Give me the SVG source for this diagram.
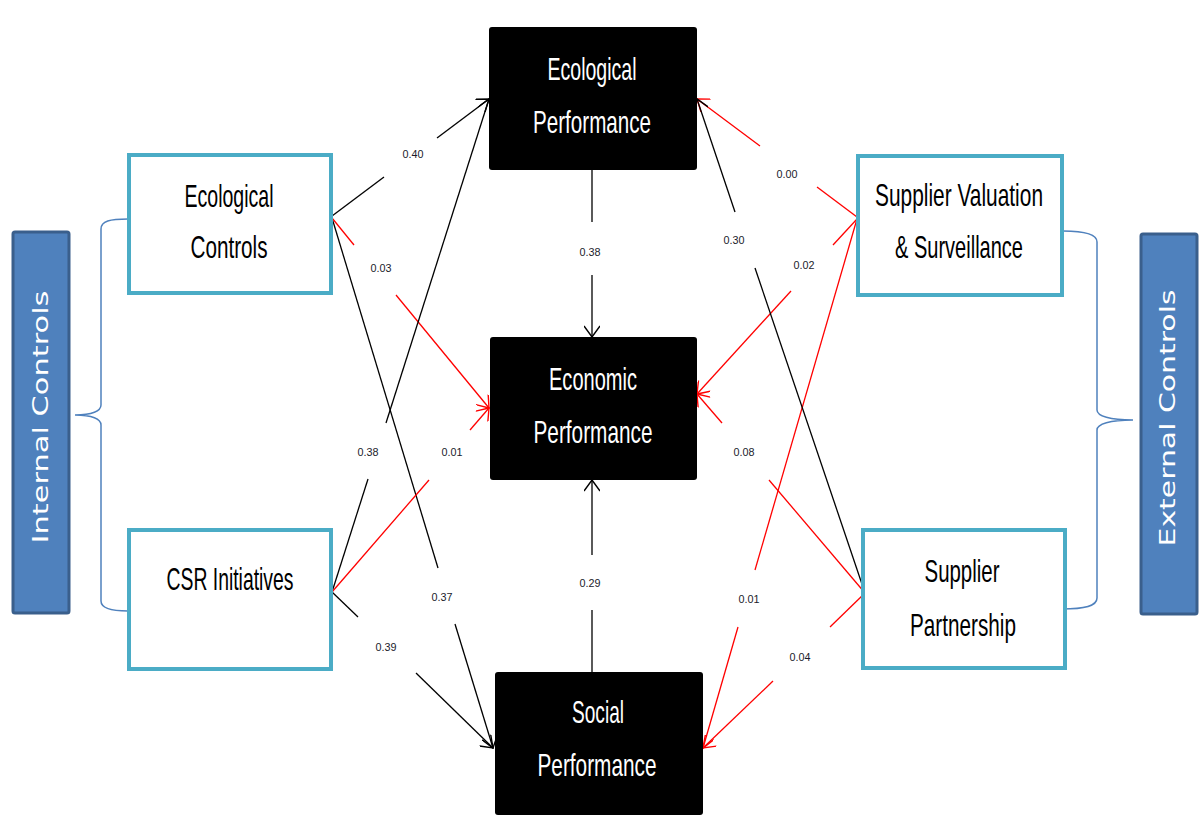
<svg xmlns="http://www.w3.org/2000/svg" width="1200" height="819" viewBox="0 0 1200 819">
<style>
.bg{fill:#fff}
.ctl{fill:#fff;stroke:#4BACC6;stroke-width:4}
.perf{fill:#000}
.bar{fill:#4F81BD;stroke:#3A5F8C;stroke-width:3}
.brace{fill:none;stroke:#4F81BD;stroke-width:1.5}
.t{font-family:"Liberation Sans",Arial,sans-serif;font-size:32px;text-anchor:middle;fill:#000}
.w{fill:#fff}
.bt{font-family:"DejaVu Sans",Verdana,sans-serif;font-size:21px;fill:#fff;text-anchor:middle}
.lb{font-family:"Liberation Sans",Arial,sans-serif;font-size:11px;fill:#1a1a2a;text-anchor:middle}
.k{stroke:#000;stroke-width:1.3;fill:none}
.r{stroke:#FF0000;stroke-width:1.3;fill:none}
.ka{marker-end:url(#ak)}
.ra{marker-end:url(#ar)}
</style>
<defs>
<marker id="ak" viewBox="0 0 16 16" markerWidth="16" markerHeight="16" refX="15" refY="8" orient="auto" markerUnits="userSpaceOnUse">
<path d="M4,0 L15,8 L4,16" fill="none" stroke="#000" stroke-width="1.4"/>
</marker>
<marker id="ar" viewBox="0 0 16 16" markerWidth="16" markerHeight="16" refX="15" refY="8" orient="auto" markerUnits="userSpaceOnUse">
<path d="M4,0 L15,8 L4,16" fill="none" stroke="#FF0000" stroke-width="1.4"/>
</marker>
</defs>
<rect class="bg" x="0" y="0" width="1200" height="819"/>

<g id="internal-controls">
<rect class="bar" x="13" y="232" width="56" height="381" rx="2"/>
<text class="bt" transform="translate(48,417) rotate(-90)" textLength="253" lengthAdjust="spacingAndGlyphs">Internal  Controls</text>
<path class="brace" d="M128,219 C110,219 101,221 101,229 L101,405 C101,411 92,415 75,415 C92,415 101,419 101,425 L101,601 C101,608 110,611 128,611"/>
</g>

<g id="external-controls">
<rect class="bar" x="1141" y="234" width="56" height="380" rx="2"/>
<text class="bt" transform="translate(1175,418) rotate(-90)" textLength="257" lengthAdjust="spacingAndGlyphs">External  Controls</text>
<path class="brace" d="M1063,231 C1085,231 1097,234 1097,242 L1097,410 C1097,416 1110,420 1133,420 C1110,420 1097,424 1097,430 L1097,598 C1097,606 1085,609 1062,609"/>
</g>

<g id="connectors">
<!-- Ecological Controls -> Ecological Performance 0.40 -->
<path class="k" d="M332,216 L384,177"/>
<path class="k ka" d="M437,138 L489,99"/>
<!-- Ecological Controls -> Social Performance 0.37 -->
<path class="k" d="M332,218 L438,568"/>
<path class="k ka" d="M455,624 L493,748"/>
<!-- Ecological Controls -> Economic Performance 0.03 -->
<path class="r" d="M332,218 L354,245"/>
<path class="r ra" d="M396,295 L489,408"/>
<!-- CSR -> Ecological Performance 0.38 -->
<path class="k" d="M332,592 L368,479"/>
<path class="k ka" d="M386,423 L489,99"/>
<!-- CSR -> Economic Performance 0.01 -->
<path class="r" d="M332,592 L429,480"/>
<path class="r ra" d="M470,430 L489,408"/>
<!-- CSR -> Social Performance 0.39 -->
<path class="k" d="M332,592 L358,617"/>
<path class="k ka" d="M416,673 L493,748"/>
<!-- Ecological Perf -> Economic Perf 0.38 -->
<path class="k" d="M592,170 L592,222"/>
<path class="k ka" d="M592,275 L592,337"/>
<!-- Social Perf -> Economic Perf 0.29 -->
<path class="k" d="M592,672 L592,610"/>
<path class="k ka" d="M592,555 L592,480"/>
<!-- Supplier Valuation -> Ecological Perf 0.00 -->
<path class="r" d="M857,217 L817,187"/>
<path class="r ra" d="M760,146 L697,99"/>
<!-- Supplier Valuation -> Economic Perf 0.02 -->
<path class="r" d="M857,219 L833,245"/>
<path class="r ra" d="M791,291 L697,394"/>
<!-- Supplier Valuation -> Social Perf 0.01 -->
<path class="r" d="M857,219 L755,570"/>
<path class="r ra" d="M738,627 L703,748"/>
<!-- Supplier Partnership -> Ecological Perf 0.30 -->
<path class="k" d="M865,593 L755,268"/>
<path class="k ka" d="M735,212 L697,99"/>
<!-- Supplier Partnership -> Economic Perf 0.08 -->
<path class="r" d="M865,593 L769,480"/>
<path class="r ra" d="M722,423 L697,394"/>
<!-- Supplier Partnership -> Social Perf 0.04 -->
<path class="r" d="M865,593 L830,627"/>
<path class="r ra" d="M773,681 L703,748"/>

<text class="lb" x="413" y="158" textLength="21" lengthAdjust="spacingAndGlyphs">0.40</text>
<text class="lb" x="381" y="272" textLength="21" lengthAdjust="spacingAndGlyphs">0.03</text>
<text class="lb" x="368" y="456" textLength="21" lengthAdjust="spacingAndGlyphs">0.38</text>
<text class="lb" x="452" y="456" textLength="21" lengthAdjust="spacingAndGlyphs">0.01</text>
<text class="lb" x="442" y="601" textLength="21" lengthAdjust="spacingAndGlyphs">0.37</text>
<text class="lb" x="386" y="651" textLength="21" lengthAdjust="spacingAndGlyphs">0.39</text>
<text class="lb" x="590" y="256" textLength="21" lengthAdjust="spacingAndGlyphs">0.38</text>
<text class="lb" x="590" y="587" textLength="21" lengthAdjust="spacingAndGlyphs">0.29</text>
<text class="lb" x="787" y="178" textLength="21" lengthAdjust="spacingAndGlyphs">0.00</text>
<text class="lb" x="734" y="244" textLength="21" lengthAdjust="spacingAndGlyphs">0.30</text>
<text class="lb" x="804" y="269" textLength="21" lengthAdjust="spacingAndGlyphs">0.02</text>
<text class="lb" x="744" y="456" textLength="21" lengthAdjust="spacingAndGlyphs">0.08</text>
<text class="lb" x="749" y="603" textLength="21" lengthAdjust="spacingAndGlyphs">0.01</text>
<text class="lb" x="800" y="661" textLength="21" lengthAdjust="spacingAndGlyphs">0.04</text>
</g>

<g id="ecological-controls">
<rect class="ctl" x="129" y="155" width="202" height="138"/>
<text class="t" x="229" y="207" textLength="89" lengthAdjust="spacingAndGlyphs">Ecological</text>
<text class="t" x="229" y="258" textLength="77" lengthAdjust="spacingAndGlyphs">Controls</text>
</g>

<g id="csr-initiatives">
<rect class="ctl" x="129" y="530" width="202" height="139"/>
<text class="t" x="230" y="590" textLength="127" lengthAdjust="spacingAndGlyphs">CSR Initiatives</text>
</g>

<g id="supplier-valuation">
<rect class="ctl" x="858" y="156" width="204" height="139"/>
<text class="t" x="959" y="206" textLength="168" lengthAdjust="spacingAndGlyphs">Supplier Valuation</text>
<text class="t" x="959" y="258" textLength="128" lengthAdjust="spacingAndGlyphs">&amp; Surveillance</text>
</g>

<g id="supplier-partnership">
<rect class="ctl" x="863" y="530" width="202" height="138"/>
<text class="t" x="962" y="582" textLength="75" lengthAdjust="spacingAndGlyphs">Supplier</text>
<text class="t" x="963" y="636" textLength="106" lengthAdjust="spacingAndGlyphs">Partnership</text>
</g>

<g id="ecological-performance">
<rect class="perf" x="489" y="27" width="208" height="143" rx="3"/>
<text class="t w" x="592" y="80" textLength="89" lengthAdjust="spacingAndGlyphs">Ecological</text>
<text class="t w" x="592" y="133" textLength="118" lengthAdjust="spacingAndGlyphs">Performance</text>
</g>

<g id="economic-performance">
<rect class="perf" x="490" y="337" width="207" height="143" rx="3"/>
<text class="t w" x="593" y="390" textLength="88" lengthAdjust="spacingAndGlyphs">Economic</text>
<text class="t w" x="593" y="443" textLength="119" lengthAdjust="spacingAndGlyphs">Performance</text>
</g>

<g id="social-performance">
<rect class="perf" x="495" y="672" width="208" height="143" rx="3"/>
<text class="t w" x="598" y="723" textLength="52" lengthAdjust="spacingAndGlyphs">Social</text>
<text class="t w" x="597" y="776" textLength="119" lengthAdjust="spacingAndGlyphs">Performance</text>
</g>
</svg>
